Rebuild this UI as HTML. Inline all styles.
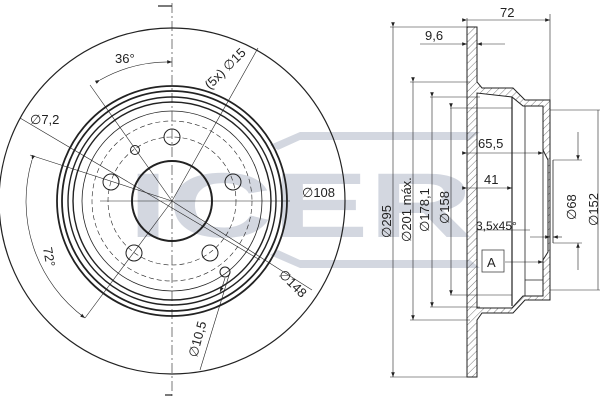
<!DOCTYPE html>
<html><head><style>
html,body{margin:0;padding:0;background:#fff;}
svg{display:block;}
text{font-family:"Liberation Sans",sans-serif;fill:#222;}
</style></head><body>
<svg width="600" height="400" viewBox="0 0 600 400" xmlns="http://www.w3.org/2000/svg">
<defs>
<pattern id="h" width="5" height="5" patternUnits="userSpaceOnUse" patternTransform="rotate(45)">
<line x1="0" y1="0" x2="0" y2="5" stroke="#555" stroke-width="0.8"/></pattern>
<marker id="a" markerWidth="8" markerHeight="6" refX="8" refY="3" orient="auto"><path d="M0,0 L8,3 L0,6z" fill="#222"/></marker>
</defs>
<g fill="#d3d7e0" stroke="none">
<path d="M270,145 L300,132 L480,132 L470,140 L300,140 L278,150z"/>
<path d="M270,255 L300,268 L480,268 L470,260 L300,260 L278,250z"/>
</g>
<text x="128" y="237" font-size="92" font-weight="bold" textLength="345" lengthAdjust="spacingAndGlyphs" style="fill:#d3d7e0">ICER</text>
<g fill="none" stroke="#222">
<circle cx="172" cy="201" r="173" stroke-width="1.2"/>
<circle cx="172" cy="201" r="115" stroke-width="1.8"/>
<circle cx="172" cy="201" r="110" stroke-width="1.8"/>
<circle cx="172" cy="201" r="104" stroke-width="1.4"/>
<circle cx="172" cy="201" r="99" stroke-width="1.4"/>
<circle cx="172" cy="201" r="90" stroke-width="0.8"/>
<circle cx="172" cy="201" r="40" stroke-width="2"/>
<circle cx="172" cy="201" r="64" stroke-width="0.6" stroke-dasharray="5,3"/>
<circle cx="172" cy="201" r="80" stroke-width="0.6" stroke-dasharray="5,3"/>
<circle cx="172" cy="137" r="8"/><circle cx="233" cy="182" r="8"/><circle cx="210" cy="253" r="8"/><circle cx="134" cy="253" r="8"/><circle cx="111" cy="182" r="8"/>
<circle cx="135" cy="150" r="4.5"/><circle cx="225" cy="272" r="5"/>
<g stroke-width="0.6">
<line x1="172" y1="3" x2="172" y2="397" stroke-dasharray="10,3,2,3"/>
<line x1="100" y1="201" x2="290" y2="201"/>
<line x1="20" y1="118" x2="260" y2="260"/>
<line x1="30" y1="155" x2="172" y2="201"/>
<line x1="90" y1="85" x2="172" y2="201"/>
<line x1="258" y1="48" x2="172" y2="201"/>
<line x1="172" y1="201" x2="85" y2="318"/>
<line x1="172" y1="201" x2="312" y2="290"/>
<line x1="200" y1="370" x2="230" y2="272"/>
<path d="M100,80 A140,140 0 0 1 172,62" marker-start="url(#a)" marker-end="url(#a)"/>
<path d="M32,160 A145,145 0 0 0 85,318" marker-start="url(#a)" marker-end="url(#a)"/>
<path d="M225,278 A100,100 0 0 1 220,292" marker-end="url(#a)"/>
</g>
<line x1="158" y1="6" x2="172" y2="6" stroke-width="1.2"/>
<line x1="165" y1="395" x2="172" y2="395" stroke-width="1.2"/>
</g>
<g font-size="13">
<text x="115" y="63">36°</text>
<text x="0" y="0" transform="translate(210,90) rotate(-45)">(5x) ∅15</text>
<text x="30" y="124">∅7,2</text>
<text x="302" y="197">∅108</text>
<text x="0" y="0" transform="translate(43,248) rotate(80)">72°</text>
<text x="0" y="0" transform="translate(278,275) rotate(45)">∅148</text>
<text x="0" y="0" transform="translate(197,358) rotate(-75)">∅10,5</text>
</g>
<g stroke="#222" stroke-width="1" fill="url(#h)">
<path d="M467,27 L477,27 L477,82 L482,88 L513,88 L525,100 L550,100 L550,300 L525,300 L513,313 L482,313 L477,320 L477,377 L467,377z M477,93 L477,308 L512,308 L523,296 L543,296 L543,260 L548,252 L548,160 L543,150 L543,106 L523,106 L512,97z" fill-rule="evenodd"/>
</g>
<g fill="none" stroke="#222" stroke-width="0.8">
<line x1="477" y1="95" x2="477" y2="308"/>
<line x1="512" y1="97" x2="512" y2="306" stroke-width="1.2"/>
<line x1="525" y1="106" x2="525" y2="296"/>
<line x1="543" y1="106" x2="543" y2="296"/>
<line x1="525" y1="280" x2="543" y2="280"/>
<line x1="550" y1="160" x2="550" y2="243"/>
<line x1="553" y1="160" x2="553" y2="243"/>
</g>
<g stroke="#222" stroke-width="0.6" fill="none">
<line x1="467" y1="18" x2="467" y2="27"/><line x1="550" y1="14" x2="550" y2="100"/>
<line x1="467" y1="20" x2="550" y2="20" marker-start="url(#a)" marker-end="url(#a)"/>
<line x1="420" y1="44" x2="467" y2="44" marker-end="url(#a)"/><line x1="505" y1="44" x2="477" y2="44" marker-end="url(#a)"/>
<line x1="390" y1="27" x2="467" y2="27"/><line x1="390" y1="377" x2="467" y2="377"/>
<line x1="393" y1="27" x2="393" y2="377" marker-start="url(#a)" marker-end="url(#a)"/>
<line x1="410" y1="82" x2="470" y2="82"/><line x1="410" y1="320" x2="470" y2="320"/>
<line x1="413" y1="82" x2="413" y2="320" marker-start="url(#a)" marker-end="url(#a)"/>
<line x1="430" y1="97" x2="480" y2="97"/><line x1="430" y1="307" x2="480" y2="307"/>
<line x1="432" y1="97" x2="432" y2="307" marker-start="url(#a)" marker-end="url(#a)"/>
<line x1="450" y1="108" x2="512" y2="108"/><line x1="450" y1="295" x2="512" y2="295"/>
<line x1="451" y1="108" x2="451" y2="295" marker-start="url(#a)" marker-end="url(#a)"/>
<line x1="467" y1="153" x2="543" y2="153" marker-start="url(#a)" marker-end="url(#a)"/>
<line x1="467" y1="188" x2="512" y2="188" marker-start="url(#a)" marker-end="url(#a)"/>
<line x1="477" y1="230" x2="530" y2="230"/>
<line x1="530" y1="237" x2="550" y2="237" marker-end="url(#a)"/><line x1="562" y1="237" x2="553" y2="237" marker-end="url(#a)"/>
<line x1="553" y1="160" x2="582" y2="160"/><line x1="553" y1="243" x2="582" y2="243"/>
<line x1="578" y1="132" x2="578" y2="160" marker-end="url(#a)"/><line x1="578" y1="270" x2="578" y2="243" marker-end="url(#a)"/>
<line x1="550" y1="110" x2="600" y2="110"/><line x1="550" y1="290" x2="600" y2="290"/>
<line x1="598" y1="110" x2="598" y2="290"/>
<line x1="505" y1="262" x2="543" y2="262" marker-end="url(#a)"/>
</g>
<rect x="482" y="250" width="22" height="22" fill="#fff" stroke="#444" stroke-width="0.8"/>
<text x="487" y="267" font-size="13">A</text>
<g font-size="13">
<text x="500" y="17">72</text>
<text x="425" y="40">9,6</text>
<text x="478" y="148">65,5</text>
<text x="484" y="184">41</text>
<text x="476" y="230" font-size="12">3,5x45°</text>
<text transform="translate(391,238) rotate(-90)" x="0" y="0">∅295</text>
<text transform="translate(411,242) rotate(-90)" x="0" y="0">∅201 máx.</text>
<text transform="translate(429,232) rotate(-90)" x="0" y="0">∅178,1</text>
<text transform="translate(449,224) rotate(-90)" x="0" y="0">∅158</text>
<text transform="translate(576,220) rotate(-90)" x="0" y="0">∅68</text>
<text transform="translate(598,226) rotate(-90)" x="0" y="0">∅152</text>
</g>
</svg>
</body></html>
